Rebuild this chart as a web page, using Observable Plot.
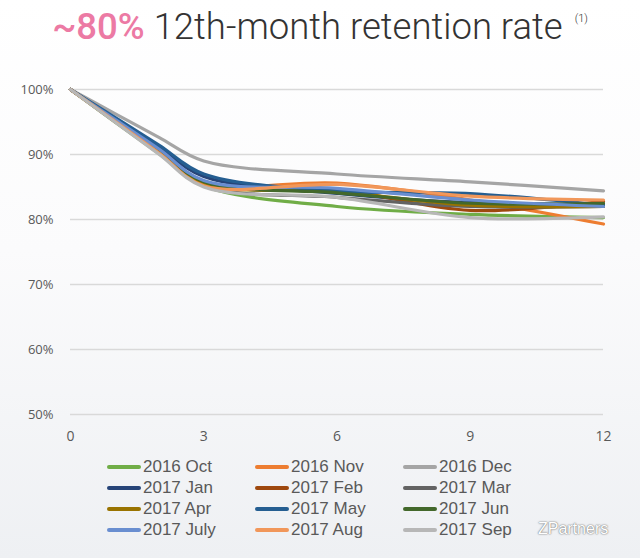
<!DOCTYPE html>
<html>
<head>
<meta charset="utf-8">
<script src="https://cdn.jsdelivr.net/npm/d3@7"></script>
<script src="https://cdn.jsdelivr.net/npm/@observablehq/plot@0.6"></script>
<style>
  html, body { margin: 0; padding: 0; }
  #wrap {
    position: relative; width: 640px; height: 558px; overflow: hidden;
    background: linear-gradient(180deg, #ffffff 0%, #fbfbfc 45%, #eef0f3 100%);
    font-family: "Liberation Sans", Arial, sans-serif;
  }
  #title {
    position: absolute; top: 5px; left: 0; width: 640px; text-align: center;
    font-family: Roboto, "Liberation Sans", sans-serif; font-weight: 300;
    font-size: 36.5px; color: #333; white-space: nowrap;
  }
  #title .hi { color: #ec7aa4; font-weight: 500; }
  #title sup { font-size: 11px; vertical-align: 17px; margin-left: 12px; }
  #chart { position: absolute; top: 70px; left: 0; }
  #legend { position: absolute; top: 456px; left: 107px; }
  .row { display: flex; height: 21px; align-items: center; }
  .item { display: flex; align-items: center; width: 148px; font-size: 17px; color: #595959; }
  .sw { width: 34px; height: 4px; border-radius: 2px; margin-right: 2px; }
  #wm { position: absolute; left: 538px; top: 520px; font-size: 16px; color: #fff;
        text-shadow: 0 0 2px #777, 0 0 1px #777; font-family: "Liberation Sans", Arial, sans-serif; }
</style>
</head>
<body>
<div id="wrap">
  <div id="title"><span class="hi">~80%</span> 12th-month retention rate<sup>(1)</sup></div>
  <div id="chart"></div>
  <div id="legend"></div>
  <div id="wm">ZPartners</div>
</div>
<script>
const months = [0, 1, 2, 3, 6, 9, 12];
const cohorts = ["2016 Oct","2016 Nov","2016 Dec","2017 Jan","2017 Feb","2017 Mar","2017 Apr","2017 May","2017 Jun","2017 July","2017 Aug","2017 Sep"];
const colors = ["#70ad47","#ed7d31","#a5a5a5","#264478","#9e480e","#636363","#997300","#255e91","#43682b","#698ed0","#f1975a","#b7b7b7"];
const oct16  = [100, 95.0, 90.1, 85.2, 82.0, 80.8, 80.3];
const nov16  = [100, 95.2, 90.4, 85.6, 85.6, 83.0, 79.3];
const dec16  = [100, 96.3, 92.6, 89.0, 87.0, 85.8, 84.4];
const jan17  = [100, 95.5, 91.1, 86.6, 84.0, 82.6, 82.4];
const feb17  = [100, 95.2, 90.3, 85.5, 84.6, 81.4, 82.8];
const mar17  = [100, 95.1, 90.2, 85.2, 83.4, 82.0, 82.0];
const apr17  = [100, 95.2, 90.3, 85.5, 84.3, 82.2, 82.0];
const may17  = [100, 95.7, 91.4, 87.0, 84.4, 84.0, 82.2];
const jun17  = [100, 95.3, 90.6, 85.8, 84.1, 82.5, 82.5];
const jul17  = [100, 95.4, 90.8, 86.0, 84.8, 83.0, 82.0];
const aug17  = [100, 95.1, 90.2, 85.2, 85.4, 83.6, 83.0];
const sep17  = [100, 95.0, 90.0, 85.0, 83.4, 80.3, 80.4];
const series = [oct16, nov16, dec16, jan17, feb17, mar17, apr17, may17, jun17, jul17, aug17, sep17];
const yTicks = [0.5, 0.6, 0.7, 0.8, 0.9, 1.0];
const xTicks = [0, 3, 6, 9, 12];

const data = [];
series.forEach((vals, i) => vals.forEach((v, j) => data.push({cohort: cohorts[i], month: months[j], value: v / 100})));

const chart = Plot.plot({
  width: 640,
  height: 384,
  marginLeft: 70,
  marginRight: 37,
  marginTop: 19,
  marginBottom: 40,
  style: { background: "transparent", fontFamily: "'Open Sans', sans-serif" },
  x: { domain: [0, 12], ticks: xTicks },
  y: { domain: [0.5, 1.0], ticks: yTicks, tickFormat: d3.format(".0%") },
  color: { domain: cohorts, range: colors },
  marks: [
    Plot.ruleY(yTicks, { stroke: "#d9d9d9", strokeWidth: 1.5 }),
    Plot.axisY({ ticks: yTicks, tickFormat: d3.format(".0%"), tickSize: 0, tickPadding: 17, fontSize: 13, color: "#595959", label: null }),
    Plot.axisX({ ticks: xTicks, tickSize: 0, tickPadding: 17, fontSize: 14, color: "#595959", label: null }),
    Plot.line(data, { x: "month", y: "value", z: "cohort", stroke: "cohort", strokeWidth: 3.2, curve: "catmull-rom", strokeLinecap: "round" })
  ]
});
document.getElementById("chart").appendChild(chart);

const leg = document.getElementById("legend");
for (let r = 0; r < 4; r++) {
  const row = document.createElement("div");
  row.className = "row";
  for (let c = 0; c < 3; c++) {
    const i = r * 3 + c;
    const it = document.createElement("div");
    it.className = "item";
    it.innerHTML = `<span class="sw" style="background:${colors[i]}"></span><span>${cohorts[i]}</span>`;
    row.appendChild(it);
  }
  leg.appendChild(row);
}
</script>
</body>
</html>
